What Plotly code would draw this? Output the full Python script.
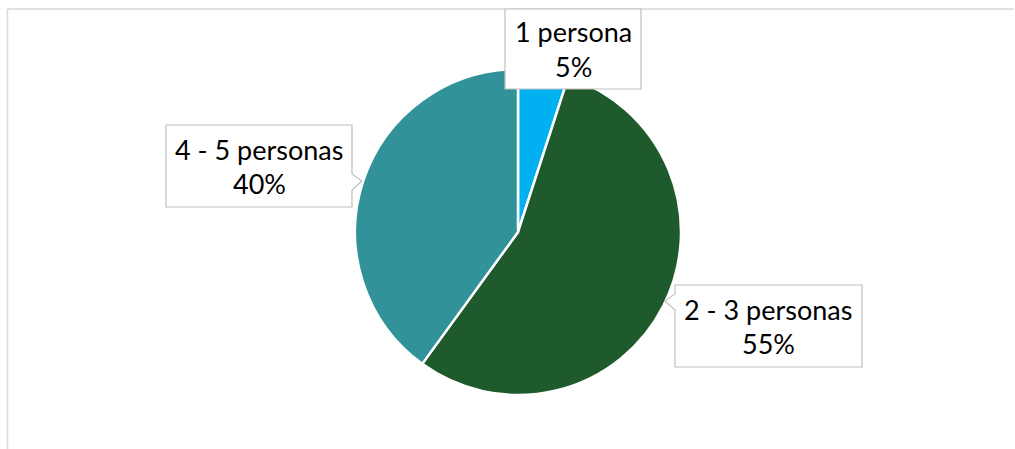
import plotly.graph_objects as go

W, H = 1015, 449

categories = ["1 persona", "2 - 3 personas", "4 - 5 personas"]
values = [5, 55, 40]
pct_labels = ["5%", "55%", "40%"]
colors = ["#00B0F0", "#1E5A2C", "#31929A"]

def px(x):
    return x / W

def py(y):
    return 1 - y / H

cx, cy, r = 518, 232, 163

fig = go.Figure(go.Pie(
    labels=categories,
    values=values,
    sort=False,
    direction="clockwise",
    rotation=0,
    marker=dict(colors=colors, line=dict(color="white", width=2.5)),
    textinfo="none",
    hoverinfo="label+percent",
    showlegend=False,
    domain=dict(x=[px(cx - r), px(cx + r)], y=[py(cy + r), py(cy - r)]),
))

shapes = []
# chart area border (top and left)
shapes.append(dict(type="line", xref="paper", yref="paper",
                   x0=px(7.5), x1=px(1014), y0=py(9), y1=py(9),
                   line=dict(color="#D9D9D9", width=1.5)))
shapes.append(dict(type="line", xref="paper", yref="paper",
                   x0=px(7.5), x1=px(7.5), y0=py(9), y1=py(449),
                   line=dict(color="#D9D9D9", width=1.5)))

def callout(points):
    d = "M " + " L ".join(f"{px(x):.5f},{py(y):.5f}" for x, y in points) + " Z"
    return dict(type="path", xref="paper", yref="paper", path=d,
                fillcolor="white", line=dict(color="#BFBFBF", width=1.2),
                layer="above")

# 1 persona box (no tail)
shapes.append(callout([(505, 9), (641, 9), (641, 89), (505, 89)]))
# 4 - 5 personas box, tail on right
shapes.append(callout([(166, 125), (352, 125), (352, 174), (362, 181),
                       (352, 190), (352, 207), (166, 207)]))
# 2 - 3 personas box, tail on left
shapes.append(callout([(675, 285), (862, 285), (862, 367), (675, 367),
                       (675, 310), (665, 301), (675, 294)]))

label_centers = {0: (573, 32, 66), 1: (768, 309, 343), 2: (259, 149, 183)}
annotations = []
font = dict(family="Lato, Carlito, sans-serif", size=27, color="#000000")
for i, (xc, y1, y2) in label_centers.items():
    annotations.append(dict(xref="paper", yref="paper", x=px(xc), y=py(y1),
                            text=categories[i], showarrow=False, font=font,
                            xanchor="center", yanchor="middle"))
    annotations.append(dict(xref="paper", yref="paper", x=px(xc), y=py(y2),
                            text=pct_labels[i], showarrow=False, font=font,
                            xanchor="center", yanchor="middle"))

fig.update_layout(
    width=W, height=H,
    margin=dict(l=0, r=0, t=0, b=0),
    paper_bgcolor="white", plot_bgcolor="white",
    shapes=shapes, annotations=annotations,
)

fig.write_html("out.html")
